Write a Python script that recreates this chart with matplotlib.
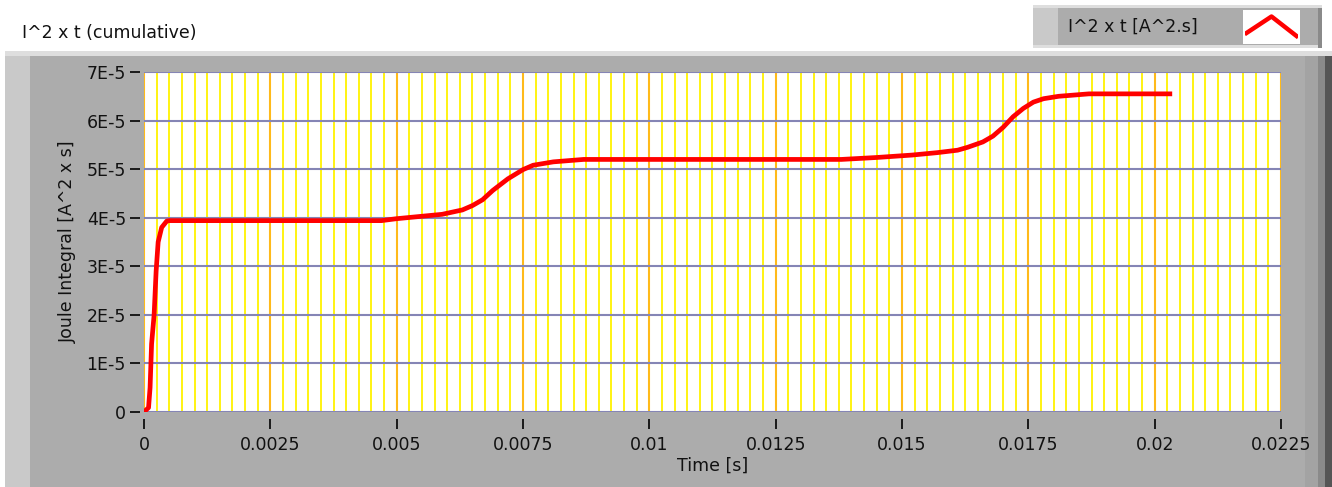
import matplotlib
matplotlib.use("Agg")
import matplotlib.pyplot as plt
from matplotlib.patches import Rectangle
from matplotlib.ticker import MultipleLocator

# data
time_s = [0, 0.00009, 0.00012, 0.00015, 0.0002, 0.00024, 0.00028, 0.00035, 0.00045, 0.0005,
          0.0047, 0.0050, 0.0055, 0.0059, 0.0063, 0.0065, 0.0067, 0.0069, 0.0072, 0.0075,
          0.0077, 0.0081, 0.0087, 0.0138, 0.0145, 0.0152, 0.0157, 0.0161, 0.0163, 0.0166,
          0.0168, 0.0170, 0.0172, 0.0174, 0.0176, 0.0178, 0.0181, 0.0187, 0.0203]
joule_e5 = [0, 0.09, 0.5, 1.4, 2.0, 2.9, 3.5, 3.8, 3.93, 3.94,
            3.94, 3.98, 4.03, 4.07, 4.16, 4.25, 4.37, 4.56, 4.80, 4.99,
            5.08, 5.15, 5.20, 5.20, 5.24, 5.29, 5.34, 5.39, 5.45, 5.56,
            5.68, 5.86, 6.08, 6.25, 6.38, 6.45, 6.50, 6.55, 6.55]
joule = [v * 1e-5 for v in joule_e5]

xticks = [0, 0.0025, 0.005, 0.0075, 0.01, 0.0125, 0.015, 0.0175, 0.02, 0.0225]
xtick_labels = ["0", "0.0025", "0.005", "0.0075", "0.01", "0.0125", "0.015", "0.0175", "0.02", "0.0225"]
yticks = [0, 1e-5, 2e-5, 3e-5, 4e-5, 5e-5, 6e-5, 7e-5]
ytick_labels = ["0", "1E-5", "2E-5", "3E-5", "4E-5", "5E-5", "6E-5", "7E-5"]

W, H = 1332, 487
plt.rcParams["font.family"] = "DejaVu Sans"
fig = plt.figure(figsize=(W / 100, H / 100), dpi=100)
fig.patch.set_facecolor("white")


def box(x0, y0, x1, y1, color):
    # pixel coords, y measured from top
    fig.patches.append(Rectangle((x0 / W, 1 - y1 / H), (x1 - x0) / W, (y1 - y0) / H,
                                 transform=fig.transFigure, facecolor=color,
                                 edgecolor="none", zorder=-10))


# graph frame
box(5, 51, 1332, 487, "#dedede")
box(5, 56, 30, 487, "#c9c9c9")
box(30, 56, 1305, 487, "#acacac")
box(1305, 56, 1318, 487, "#a3a3a3")
box(1318, 56, 1325, 487, "#8a8a8a")
box(1325, 56, 1332, 487, "#555555")

# legend frame
box(1033, 5, 1322, 48, "#dedede")
box(1033, 8, 1058, 45, "#c9c9c9")
box(1058, 8, 1318, 45, "#acacac")
box(1318, 8, 1322, 48, "#8a8a8a")
box(1243, 10, 1300, 44, "white")

fig.text(22 / W, 1 - 33 / H, "I^2 x t (cumulative)", fontsize=12.5, ha="left", va="center", color="#111111")
fig.text(1068 / W, 1 - 27 / H, "I^2 x t [A^2.s]", fontsize=12.5, ha="left", va="center", color="#111111")

lax = fig.add_axes([1245 / W, 1 - 42 / H, 53 / W, 30 / H])
lax.plot([0, 0.5, 1], [0.3, 0.85, 0.2], color="#ff0000", lw=3.2)
lax.set_xlim(-0.03, 1.03)
lax.set_ylim(0, 1)
lax.axis("off")

ax = fig.add_axes([144 / W, 1 - 412 / H, (1281 - 144) / W, (412 - 72) / H])
ax.set_facecolor("white")
ax.plot(time_s, joule, color="#ff0000", lw=3.4, zorder=5, solid_joinstyle="round")

ax.set_xlim(0, 0.0225)
ax.set_ylim(0, 7e-5)
ax.set_xticks(xticks)
ax.set_xticklabels(xtick_labels)
ax.set_yticks(yticks)
ax.set_yticklabels(ytick_labels)
ax.xaxis.set_minor_locator(MultipleLocator(0.00025))

ax.grid(which="minor", axis="x", color="#fff200", lw=1.3, zorder=1)
ax.grid(which="major", axis="x", color="#ffba1a", lw=1.5, zorder=2)
ax.grid(which="major", axis="y", color="#8585b5", lw=1.5, zorder=3)
ax.set_axisbelow(True)

for side in ["top", "right"]:
    ax.spines[side].set_visible(False)
ax.spines["left"].set_position(("outward", 3))
ax.spines["bottom"].set_position(("outward", 5))
ax.spines["left"].set_color("none")
ax.spines["bottom"].set_color("none")
ax.tick_params(which="major", direction="out", length=7, width=1.4, color="#1a1a1a",
               labelsize=12.5, labelcolor="#111111")
ax.tick_params(axis="x", pad=5)
ax.tick_params(axis="y", pad=3)
ax.tick_params(which="minor", length=0)

ax.set_xlabel("Time [s]", fontsize=12.5, color="#111111", labelpad=2)
ax.set_ylabel("Joule Integral [A^2 x s]", fontsize=12.5, color="#111111", labelpad=7)

fig.savefig("out.png", dpi=100)
